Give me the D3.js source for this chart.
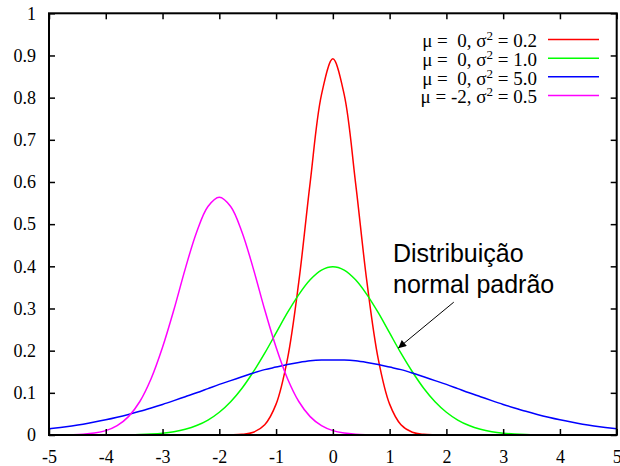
<!DOCTYPE html>
<html><head><meta charset="utf-8">
<script src="https://cdn.jsdelivr.net/npm/d3@7"></script>
<style>body{margin:0;background:#fff}svg{display:block}</style>
</head><body>
<svg id="c" width="620" height="466"></svg>
<script>
// ---- data ----
const xs = [-5,-4.8,-4.6,-4.4,-4.2,-4,-3.8,-3.6,-3.4,-3.2,-3,-2.8,-2.6,-2.4,-2.2,-2,-1.8,-1.6,-1.4,-1.2,-1,-0.8,-0.6,-0.4,-0.2,0,0.2,0.4,0.6,0.8,1,1.2,1.4,1.6,1.8,2,2.2,2.4,2.6,2.8,3,3.2,3.4,3.6,3.8,4,4.2,4.4,4.6,4.8,5];
const redVals = [0,0,0,0,0,0,0,0,0,0,0,0,0,0,0,0,0.0003,0.0015,0.0066,0.0244,0.0732,0.180,0.363,0.598,0.807,0.892,0.807,0.598,0.363,0.180,0.0732,0.0244,0.0066,0.0015,0.0003,0,0,0,0,0,0,0,0,0,0,0,0,0,0,0,0];
const greenVals = [0,0,0,0,0,0.0001,0.0003,0.0006,0.0012,0.0024,0.0044,0.0079,0.0136,0.0224,0.0355,0.054,0.079,0.111,0.150,0.194,0.242,0.290,0.333,0.368,0.391,0.399,0.391,0.368,0.333,0.290,0.242,0.194,0.150,0.111,0.079,0.054,0.0355,0.0224,0.0136,0.0079,0.0044,0.0024,0.0012,0.0006,0.0003,0.0001,0,0,0,0,0];
const blueVals = [0.0146,0.0178,0.0215,0.0257,0.0306,0.0360,0.0421,0.0488,0.0561,0.0641,0.0725,0.0815,0.0908,0.100,0.110,0.120,0.129,0.138,0.147,0.155,0.161,0.167,0.172,0.176,0.178,0.178,0.178,0.176,0.172,0.167,0.161,0.155,0.147,0.138,0.129,0.120,0.110,0.100,0.0908,0.0815,0.0725,0.0641,0.0561,0.0488,0.0421,0.0360,0.0306,0.0257,0.0215,0.0178,0.0146];
const magentaVals = [0.0001,0.0002,0.0007,0.0018,0.0045,0.0103,0.0221,0.0436,0.0794,0.134,0.208,0.297,0.394,0.481,0.542,0.564,0.542,0.481,0.394,0.297,0.208,0.134,0.0794,0.0436,0.0221,0.0103,0.0045,0.0018,0.0007,0.0002,0.0001,0,0,0,0,0,0,0,0,0,0,0,0,0,0,0,0,0,0,0,0];
const seriesMu = ["0","0","0","-2"];
const seriesVar = ["0.2","1.0","5.0","0.5"];
const xTicks = [-5,-4,-3,-2,-1,0,1,2,3,4,5];
const yTicks = [0,0.1,0.2,0.3,0.4,0.5,0.6,0.7,0.8,0.9,1];
const annotationLines = ["Distribuição","normal padrão"];

const seriesVals = [redVals, greenVals, blueVals, magentaVals];
const colors = ["#ff0000","#00ff00","#0000ff","#ff00ff"];

const L = 49, R = 616.7, T = 13.3, B = 435;
const x = d3.scaleLinear().domain([-5,5]).range([L,R]);
const y = d3.scaleLinear().domain([0,1]).range([B,T]);
const svg = d3.select("#c");

svg.append("clipPath").attr("id","clip").append("rect")
  .attr("x",L).attr("y",T).attr("width",R-L).attr("height",B-T);

// curves
const line = d3.line().x((d,i)=>x(xs[i])).y(d=>y(d)).curve(d3.curveCatmullRom.alpha(0.5));
const g = svg.append("g").attr("clip-path","url(#clip)");
seriesVals.forEach((vals,k)=>{
  g.append("path").attr("d",line(vals)).attr("fill","none")
   .attr("stroke",colors[k]).attr("stroke-width",1.5);
});

// axes with inward ticks on all sides
const tickFont = "'Liberation Serif','Times New Roman',serif";
const axB = svg.append("g").attr("transform",`translate(0,${B})`)
  .call(d3.axisBottom(x).tickValues(xTicks).tickSize(-6).tickPadding(15).tickFormat(d=>String(d)));
const axT = svg.append("g").attr("transform",`translate(0,${T})`)
  .call(d3.axisTop(x).tickValues(xTicks).tickSize(-6).tickFormat(""));
const axL = svg.append("g").attr("transform",`translate(${L},0)`)
  .call(d3.axisLeft(y).tickValues(yTicks).tickSize(-6).tickPadding(13).tickFormat(d=>String(d)));
const axR = svg.append("g").attr("transform",`translate(${R},0)`)
  .call(d3.axisRight(y).tickValues(yTicks).tickSize(-6).tickFormat(""));
[axB,axT,axL,axR].forEach(a=>{
  a.select(".domain").remove();
  a.selectAll(".tick line").attr("stroke","#000").attr("stroke-width",1.5);
  a.selectAll("text").attr("font-family",tickFont).attr("font-size",18).attr("fill","#000");
});
axB.selectAll(".tick text").attr("dy","0.7em");
// frame
svg.append("rect").attr("x",L).attr("y",T).attr("width",R-L).attr("height",B-T)
  .attr("fill","none").attr("stroke","#000").attr("stroke-width",2);

// legend
const rowY = d3.scaleLinear().domain([0,3]).range([47.3,103.3]);
const leg = svg.append("g");
seriesMu.forEach((mu,i)=>{
  const t = leg.append("text").attr("x",537).attr("y",rowY(i)).attr("text-anchor","end")
    .attr("font-family",tickFont).attr("font-size",19).attr("fill","#000")
    .style("white-space","pre");
  t.append("tspan").text(`μ = ${mu === "-2" ? "-2" : " " + mu}, σ`);
  t.append("tspan").attr("dy",-7).attr("font-size",13).text("2");
  t.append("tspan").attr("dy",7).text(` = ${seriesVar[i]}`);
  leg.append("line").attr("x1",548).attr("x2",599)
    .attr("y1",rowY(i)-7.8).attr("y2",rowY(i)-7.8)
    .attr("stroke",colors[i]).attr("stroke-width",1.5);
});

// annotation
const ann = svg.append("text").attr("font-family","'Liberation Sans',Arial,sans-serif")
  .attr("font-size",25).attr("fill","#000");
annotationLines.forEach((s,i)=>{
  ann.append("tspan").attr("x",x(1.06)).attr("y",y(i===0?0.41:0.336)).text(s);
});
svg.append("defs").append("marker").attr("id","ah").attr("viewBox","0 0 10 10")
  .attr("refX",10).attr("refY",5).attr("markerWidth",10).attr("markerHeight",8)
  .attr("markerUnits","userSpaceOnUse").attr("orient","auto")
  .append("path").attr("d","M0,0L10,5L0,10z").attr("fill","#000");
svg.append("line").attr("x1",x(2.13)).attr("y1",y(0.315)).attr("x2",x(1.15)).attr("y2",y(0.206))
  .attr("stroke","#000").attr("stroke-width",1).attr("marker-end","url(#ah)");
</script>
</body></html>
